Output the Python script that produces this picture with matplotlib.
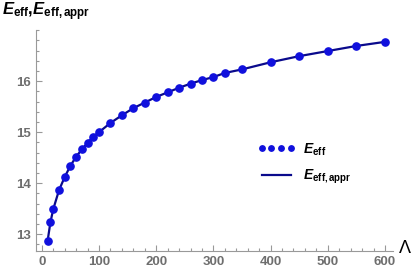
import matplotlib.pyplot as plt
from matplotlib.ticker import MultipleLocator

plt.rcParams['font.family'] = 'Liberation Sans'
plt.rcParams['mathtext.fontset'] = 'custom'
plt.rcParams['mathtext.rm'] = 'Liberation Sans'
plt.rcParams['mathtext.bf'] = 'Liberation Sans:bold'
plt.rcParams['mathtext.it'] = 'Liberation Sans:italic'
plt.rcParams['mathtext.bfit'] = 'Liberation Sans:bold:italic'

# data
lam = [10, 15, 20, 30, 40, 50, 60, 70, 80, 90, 100, 120, 140, 160, 180, 200,
       220, 240, 260, 280, 300, 320, 350, 400, 450, 500, 550, 600]
e_eff = [12.86, 13.23, 13.49, 13.86, 14.12, 14.34, 14.52, 14.66, 14.79, 14.91,
         15.00, 15.18, 15.33, 15.47, 15.58, 15.69, 15.78, 15.87, 15.95, 16.02,
         16.08, 16.16, 16.23, 16.37, 16.49, 16.59, 16.69, 16.77]
e_appr = e_eff

grey = '#999999'
fig = plt.figure(figsize=(4.15, 2.69), dpi=100)
ax = fig.add_axes([0.087, 0.067, 0.86, 0.821])

ax.plot(lam, e_appr, color='#0a0a8c', lw=1.6, zorder=2,
        label=r'$\mathbfit{E}_{\mathbf{eff,appr}}$')
ax.plot(lam, e_eff, 'o', color='#1010dd', ms=5.2, zorder=3,
        label=r'$\mathbfit{E}_{\mathbf{eff}}$')

ax.set_xlim(-10, 614)
ax.set_ylim(12.67, 17.0)
ax.xaxis.set_major_locator(MultipleLocator(100))
ax.xaxis.set_minor_locator(MultipleLocator(20))
ax.yaxis.set_major_locator(MultipleLocator(1))
ax.yaxis.set_minor_locator(MultipleLocator(0.2))
ax.set_yticks([13, 14, 15, 16])

for s in ['top', 'right']:
    ax.spines[s].set_visible(False)
for s in ['left', 'bottom']:
    ax.spines[s].set_color(grey)
    ax.spines[s].set_linewidth(0.8)
ax.tick_params(which='both', direction='in', color=grey, width=0.8,
               labelcolor='#6e6e6e', labelsize=9.5)
ax.tick_params(which='major', length=4)
ax.tick_params(which='minor', length=2.5)
for t in ax.get_xticklabels() + ax.get_yticklabels():
    t.set_fontweight('bold')

fig.text(0.005, 0.955, r'$\mathbfit{E}_{\mathbf{eff}}\mathbf{,}\mathbfit{E}_{\mathbf{eff,appr}}$',
         fontsize=12, va='center', ha='left')
fig.text(0.958, 0.075, r'$\Lambda$', fontsize=13, va='center', ha='left')

h, l = ax.get_legend_handles_labels()
leg = ax.legend([h[1], h[0]], [l[1], l[0]], loc='center left',
                bbox_to_anchor=(0.585, 0.395), frameon=False, numpoints=4,
                handlelength=2.7, fontsize=10, labelspacing=0.75,
                markerscale=0.75, handletextpad=0.6)

fig.savefig('out.png', dpi=100)
